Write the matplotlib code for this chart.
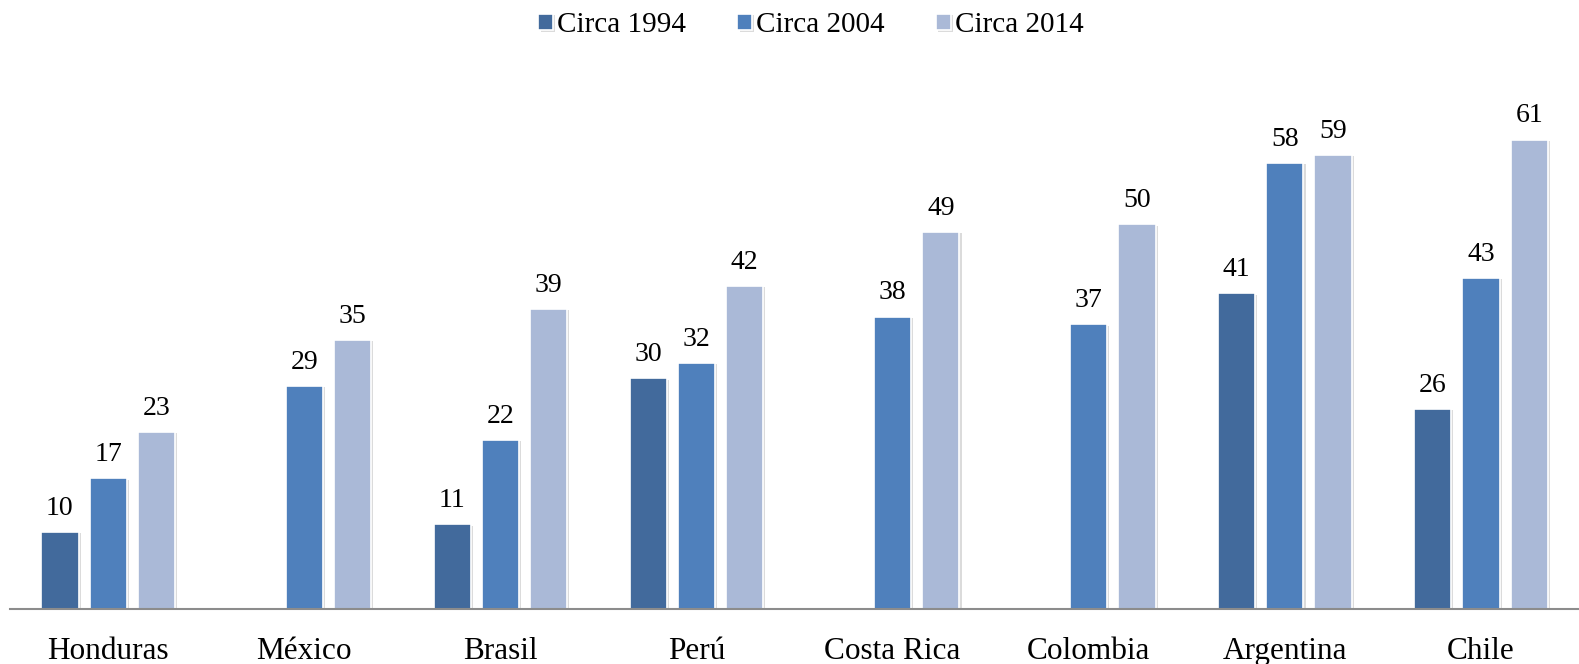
import matplotlib
matplotlib.use("Agg")
import matplotlib.pyplot as plt
import matplotlib.patheffects as pe
import numpy as np

categories = ["Honduras", "México", "Brasil", "Perú", "Costa Rica", "Colombia", "Argentina", "Chile"]
series_names = ["Circa 1994", "Circa 2004", "Circa 2014"]
circa_1994 = [10, None, 11, 30, None, None, 41, 26]
circa_2004 = [17, 29, 22, 32, 38, 37, 58, 43]
circa_2014 = [23, 35, 39, 42, 49, 50, 59, 61]
colors = ["#426A9C", "#4F80BC", "#AAB9D7"]

plt.rcParams['font.family'] = ['Liberation Serif', 'DejaVu Serif']

fig = plt.figure(figsize=(15.79, 6.64), dpi=100)
ax = fig.add_axes([0.0064, 0.0828, 0.9936, 0.758])

x = np.arange(len(categories))
width = 0.19
step = 0.246
all_series = [circa_1994, circa_2004, circa_2014]
handles = []
for i, (vals, name, col) in enumerate(zip(all_series, series_names, colors)):
    xs = [xi + (i - 1) * step for xi, v in zip(x, vals) if v is not None]
    vs = [v for v in vals if v is not None]
    bars = ax.bar(xs, vs, width=width, color=col, edgecolor="white", linewidth=1.2,
                  label=name, zorder=2)
    for b in bars:
        b.set_path_effects([pe.SimplePatchShadow(offset=(1.5, -1.0), shadow_rgbFace="#999999", alpha=0.35), pe.Normal()])
    for xi, v in zip(xs, vs):
        ax.annotate(f"{v}", (xi, v), xytext=(0, 8), textcoords="offset points",
                    ha="center", va="bottom", fontsize=20, color="black")
    handles.append(bars)

ax.set_xlim(-0.5, len(categories) - 0.5)
ax.set_ylim(0, 65.4)
ax.set_xticks(x)
ax.set_xticklabels(categories, fontsize=22.5)
ax.tick_params(axis="x", length=0, pad=20)
ax.set_yticks([])
for s in ["top", "right", "left"]:
    ax.spines[s].set_visible(False)
ax.spines["bottom"].set_color("#8C8C8C")
ax.spines["bottom"].set_linewidth(1.5)

fig.legend(handles=handles, labels=series_names, loc="center", bbox_to_anchor=(0.5137, 0.962),
           ncol=3, frameon=False, fontsize=21, handlelength=0.5, handleheight=0.5,
           handletextpad=0.15, columnspacing=1.75)

fig.savefig("out.png", dpi=100)
